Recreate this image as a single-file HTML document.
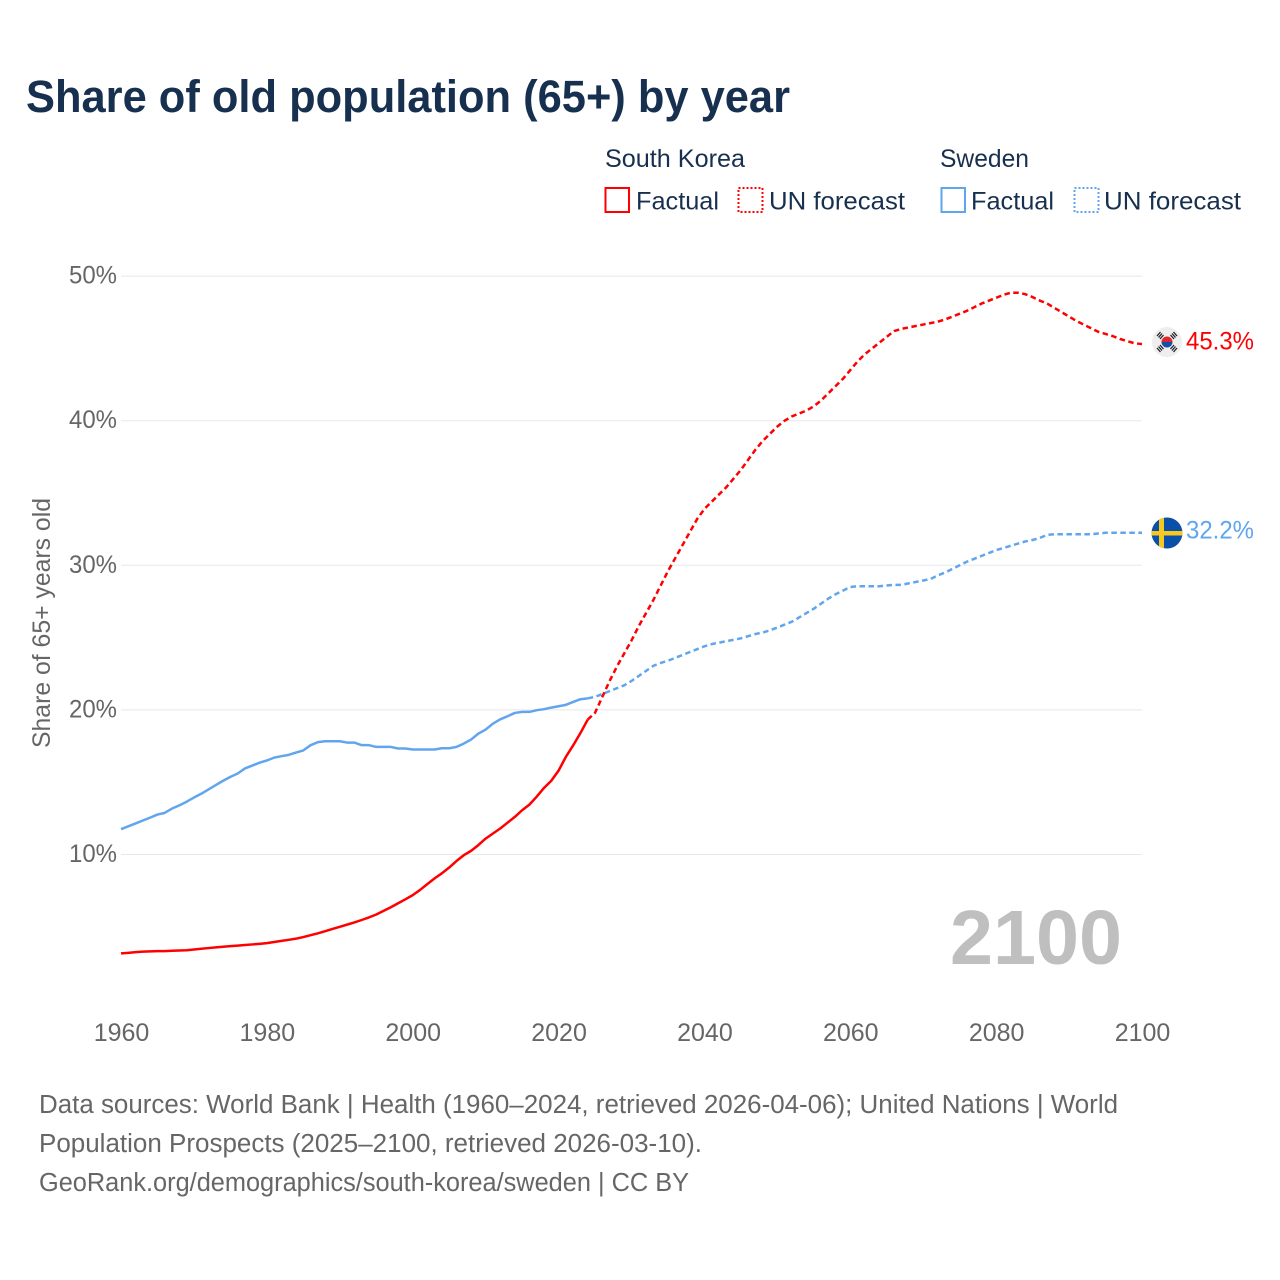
<!DOCTYPE html>
<html lang="en">
<head>
<meta charset="utf-8">
<title>Share of old population (65+) by year</title>
<style>
html,body{margin:0;padding:0;background:#fff;}
svg{display:block;font-family:"Liberation Sans",sans-serif;}
.leg{font-size:25px;fill:#18304f;}
.foot{font-size:25.5px;fill:#666;}
.tick{font-size:25px;fill:#666;}
</style>
</head>
<body>
<svg id="chart" width="1280" height="1280" viewBox="0 0 1280 1280" xmlns="http://www.w3.org/2000/svg">
  <rect x="0" y="0" width="1280" height="1280" fill="#fff"/>
  <text x="26" y="112" font-size="45" font-weight="700" fill="#18304f" textLength="764" lengthAdjust="spacingAndGlyphs">Share of old population (65+) by year</text>

  <g>
    <text class="leg" x="605" y="167" textLength="140" lengthAdjust="spacingAndGlyphs">South Korea</text>
    <text class="leg" x="940" y="167" textLength="89" lengthAdjust="spacingAndGlyphs">Sweden</text>
    <rect x="605.5" y="188" width="23.5" height="24" fill="none" stroke="#ff0000" stroke-width="2"/>
    <text class="leg" x="636" y="209.5" textLength="83" lengthAdjust="spacingAndGlyphs">Factual</text>
    <rect x="738.5" y="188" width="24" height="24" fill="none" stroke="#ff0000" stroke-width="2" stroke-dasharray="2 2"/>
    <text class="leg" x="769" y="209.5" textLength="136" lengthAdjust="spacingAndGlyphs">UN forecast</text>
    <rect x="941.5" y="188" width="23.5" height="24" fill="none" stroke="#61a5ee" stroke-width="2"/>
    <text class="leg" x="971" y="209.5" textLength="83" lengthAdjust="spacingAndGlyphs">Factual</text>
    <rect x="1074.5" y="188" width="24" height="24" fill="none" stroke="#61a5ee" stroke-width="2" stroke-dasharray="2 2"/>
    <text class="leg" x="1104" y="209.5" textLength="137" lengthAdjust="spacingAndGlyphs">UN forecast</text>
  </g>

  <g id="grid"></g>
  <g id="yticks"></g>
  <g id="xticks"></g>
  <text transform="translate(50,623) rotate(-90)" text-anchor="middle" font-size="25" fill="#666" textLength="250" lengthAdjust="spacingAndGlyphs">Share of 65+ years old</text>
  <text x="950" y="964" font-size="77" font-weight="700" fill="#bfbfbf" textLength="172" lengthAdjust="spacingAndGlyphs">2100</text>

  <g id="series"></g>

  <g>
    <circle cx="1167" cy="342" r="15" fill="#eeeeee"/>
    <path d="M1161.5 342a5.5 5.5 0 0 1 11 0z" fill="#e0252f"/>
    <path d="M1161.5 342a5.5 5.5 0 0 0 11 0z" fill="#1450a8"/>
    <g stroke="#222" stroke-width="1.3" fill="none">
      <path d="M1157 336l3.500-4M1158.500 337.500l3.500-4M1160 339l3.500-4"/>
      <path d="M1170.500 335l3.500 4M1172 333.500l3.500 4M1173.500 332l3.500 4"/>
      <path d="M1157 348l3.500 4M1158.500 346.500l3.500 4M1160 345l3.500 4"/>
      <path d="M1170.500 349l3.500-4M1172 350.500l3.500-4M1173.500 352l3.500-4"/>
    </g>
  </g>
  <clipPath id="se-clip"><circle cx="1167" cy="533" r="15.500"/></clipPath>
  <g clip-path="url(#se-clip)">
    <rect x="1151" y="517" width="32" height="32" fill="#0a4fa8"/>
    <rect x="1159" y="517" width="5" height="32" fill="#f7c81e"/>
    <rect x="1151" y="531" width="32" height="4.500" fill="#f7c81e"/>
  </g>
  <text x="1186" y="349.500" font-size="25" fill="#ff0000" textLength="68" lengthAdjust="spacingAndGlyphs">45.3%</text>
  <text x="1186" y="538.500" font-size="25" fill="#61a5ee" textLength="68" lengthAdjust="spacingAndGlyphs">32.2%</text>

  <g>
    <text class="foot" x="39" y="1113" textLength="1079" lengthAdjust="spacingAndGlyphs">Data sources: World Bank | Health (1960–2024, retrieved 2026-04-06); United Nations | World</text>
    <text class="foot" x="39" y="1152" textLength="663" lengthAdjust="spacingAndGlyphs">Population Prospects (2025–2100, retrieved 2026-03-10).</text>
    <text class="foot" x="39" y="1191" textLength="650" lengthAdjust="spacingAndGlyphs">GeoRank.org/demographics/south-korea/sweden | CC BY</text>
  </g>
</svg>
<script>
const xTickLabels = [1960, 1980, 2000, 2020, 2040, 2060, 2080, 2100];
const yTickLabels = [10, 20, 30, 40, 50];
const factualStartYear = 1960;
const forecastStartYear = 2024;
const koreaFactual = [
  3.16,3.2,3.25,3.28,3.3,3.32,3.32,3.34,3.36,3.38,
  3.43,3.48,3.53,3.58,3.62,3.66,3.7,3.74,3.78,3.82,
  3.87,3.95,4.03,4.1,4.18,4.29,4.42,4.55,4.7,4.85,
  5.0,5.15,5.3,5.47,5.65,5.85,6.1,6.35,6.63,6.9,
  7.19,7.55,7.95,8.35,8.7,9.1,9.55,9.95,10.25,10.65,
  11.1,11.45,11.8,12.2,12.6,13.06,13.45,14.0,14.6,15.1,
  15.8,16.75,17.55,18.4,19.33
];
const swedenFactual = [
  11.75,11.95,12.15,12.35,12.55,12.76,12.88,13.18,13.4,13.65,
  13.94,14.2,14.5,14.8,15.1,15.37,15.6,15.95,16.15,16.35,
  16.5,16.7,16.8,16.89,17.05,17.2,17.56,17.77,17.83,17.83,
  17.83,17.74,17.74,17.56,17.56,17.44,17.44,17.44,17.33,17.33,
  17.26,17.26,17.26,17.26,17.35,17.35,17.44,17.67,17.95,18.36,
  18.64,19.05,19.35,19.56,19.79,19.86,19.86,19.98,20.05,20.16,
  20.25,20.35,20.55,20.74,20.8
];
const koreaForecast = [
  19.33,19.8,20.9,22.0,23.0,23.9,24.8,25.8,26.7,27.6,
  28.6,29.6,30.5,31.4,32.3,33.2,33.9,34.4,34.9,35.4,
  36.0,36.6,37.3,38.0,38.6,39.1,39.6,40.0,40.3,40.5,
  40.7,41.0,41.4,41.9,42.4,42.9,43.5,44.1,44.6,45.0,
  45.4,45.8,46.2,46.35,46.45,46.55,46.65,46.75,46.85,47.0,
  47.2,47.4,47.6,47.85,48.1,48.3,48.5,48.7,48.85,48.85,
  48.75,48.55,48.3,48.1,47.8,47.5,47.2,46.9,46.65,46.4,
  46.15,46.0,45.85,45.65,45.5,45.35,45.3
];
const swedenForecast = [
  20.8,20.9,21.1,21.3,21.5,21.7,22.0,22.35,22.7,23.05,
  23.25,23.4,23.6,23.8,24.0,24.2,24.4,24.55,24.65,24.75,
  24.85,24.95,25.1,25.25,25.35,25.5,25.7,25.9,26.1,26.4,
  26.7,27.0,27.35,27.7,28.0,28.25,28.5,28.55,28.55,28.55,
  28.55,28.6,28.65,28.65,28.75,28.85,28.95,29.05,29.3,29.5,
  29.75,30.0,30.25,30.45,30.65,30.85,31.05,31.2,31.35,31.5,
  31.65,31.75,31.9,32.1,32.15,32.15,32.15,32.15,32.15,32.15,
  32.2,32.25,32.25,32.25,32.25,32.25,32.25
];

const NS = 'http://www.w3.org/2000/svg';
const xScale = year => 121 + (year - 1960) * (1142 - 121) / 140;
const yScale = pct => 854.5 - (pct - 10) * 14.46;

const grid = document.getElementById('grid');
const yTicks = document.getElementById('yticks');
yTickLabels.forEach(v => {
  const line = document.createElementNS(NS, 'line');
  
  
  line.setAttribute('x1', 121);
  line.setAttribute('x2', 1142);
  line.setAttribute('y1', yScale(v));
  line.setAttribute('y2', yScale(v));
  line.setAttribute('stroke', '#e8e8e8');
  line.setAttribute('stroke-width', 1);
  grid.appendChild(line);
  const t = document.createElementNS(NS, 'text');
  
  
  t.setAttribute('class', 'tick');
  t.setAttribute('x', 117);
  t.setAttribute('y', yScale(v) + 7.5);
  t.setAttribute('text-anchor', 'end');
  t.setAttribute('textLength', 48);
  t.setAttribute('lengthAdjust', 'spacingAndGlyphs');
  t.textContent = v + '%';
  yTicks.appendChild(t);
});

const xTicks = document.getElementById('xticks');
xTickLabels.forEach(y => {
  const t = document.createElementNS(NS, 'text');
  
  
  t.setAttribute('class', 'tick');
  t.setAttribute('x', xScale(y) + 0.5);
  t.setAttribute('y', 1041);
  t.setAttribute('text-anchor', 'middle');
  t.textContent = y;
  xTicks.appendChild(t);
});

const seriesGroup = document.getElementById('series');
function drawLine(values, startYear, color, dashed, name) {
  const d = values.map((v, i) => (i ? 'L' : 'M') + xScale(startYear + i).toFixed(2) + ' ' + yScale(v).toFixed(2)).join(' ');
  const p = document.createElementNS(NS, 'path');
  
  
  p.setAttribute('d', d);
  p.setAttribute('fill', 'none');
  p.setAttribute('stroke', color);
  p.setAttribute('stroke-width', 2.5);
  p.setAttribute('stroke-linejoin', 'round');
  if (dashed) p.setAttribute('stroke-dasharray', '5.5 3.5');
  seriesGroup.appendChild(p);
}
drawLine(swedenFactual, factualStartYear, '#61a5ee', false, 'line-sweden-factual');
drawLine(koreaFactual, factualStartYear, '#ff0000', false, 'line-south-korea-factual');
drawLine(swedenForecast, forecastStartYear, '#61a5ee', true, 'line-sweden-forecast');
drawLine(koreaForecast, forecastStartYear, '#ff0000', true, 'line-south-korea-forecast');
</script>
</body>
</html>
